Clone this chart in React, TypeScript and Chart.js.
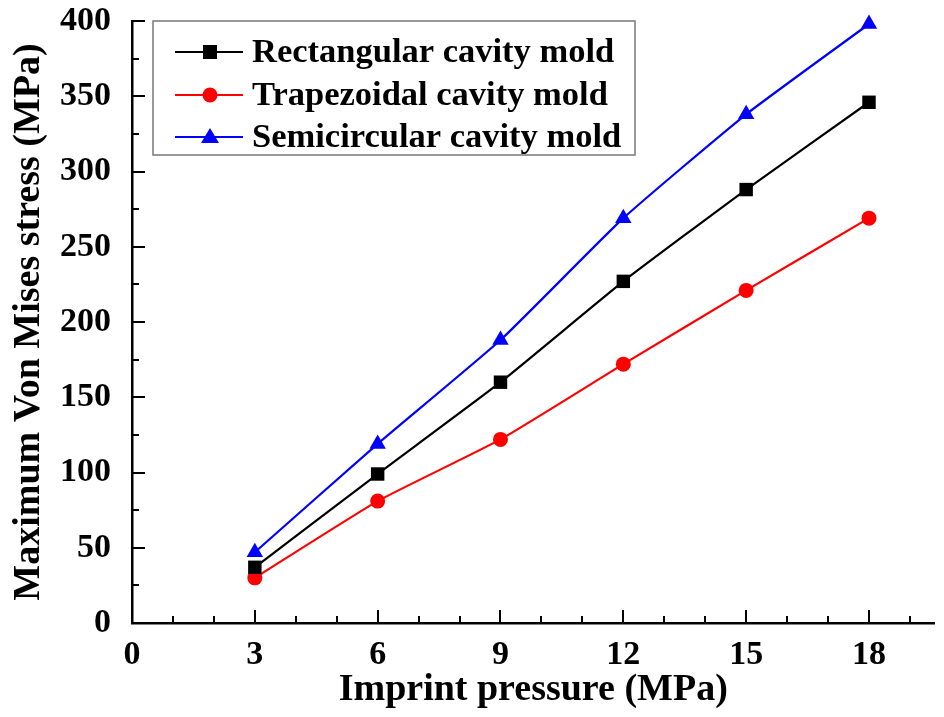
import React, { useEffect, useRef } from "react";
import { Chart, registerables } from "chart.js";

Chart.register(...registerables);

const pressures = [3, 6, 9, 12, 15, 18];
const rectangular = [37, 99, 160, 227, 288, 346];
const trapezoidal = [30, 81, 122, 172, 221, 269];
const semicircular = [47, 119, 188, 269, 338, 398];

const seriesNames = ["Rectangular cavity mold", "Trapezoidal cavity mold", "Semicircular cavity mold"];
const seriesColors = ["#000000", "#ff0000", "#0000ff"];
const seriesStyles = ["rect", "circle", "triangle"];
const seriesRadius = [9.5, 7.5, 9.5];

const FONT = "'Liberation Serif', 'Times New Roman', serif";

const tickPlugin = {
  id: "tickPlugin",
  afterDraw(chart: any) {
    const ctx = chart.ctx;
    const xs = chart.scales.x;
    const ys = chart.scales.y;
    const area = chart.chartArea;
    ctx.save();
    ctx.strokeStyle = "#000";
    ctx.lineWidth = 2;
    for (let v = 0; v <= xs.max; v += 1) {
      const px = Math.round(xs.getPixelForValue(v));
      const len = v % 3 === 0 ? 13 : 7;
      ctx.beginPath();
      ctx.moveTo(px, area.bottom);
      ctx.lineTo(px, area.bottom - len);
      ctx.stroke();
    }
    for (let v = 0; v <= ys.max; v += 25) {
      const py = Math.round(ys.getPixelForValue(v));
      const len = v % 50 === 0 ? 13 : 7;
      ctx.beginPath();
      ctx.moveTo(area.left, py);
      ctx.lineTo(area.left + len, py);
      ctx.stroke();
    }
    // legend
    const bx = 153, by = 21, bw = 482, bh = 134;
    ctx.fillStyle = "#fff";
    ctx.fillRect(bx, by, bw, bh);
    ctx.strokeStyle = "#777";
    ctx.lineWidth = 1.5;
    ctx.strokeRect(bx, by, bw, bh);
    const rows = [52, 95, 137];
    ctx.font = `bold 34.5px ${FONT}`;
    ctx.textBaseline = "middle";
    ctx.textAlign = "left";
    seriesNames.forEach((name, i) => {
      const y = rows[i];
      ctx.strokeStyle = seriesColors[i];
      ctx.lineWidth = 2;
      ctx.beginPath();
      ctx.moveTo(175, y);
      ctx.lineTo(243, y);
      ctx.stroke();
      ctx.fillStyle = seriesColors[i];
      const cx = 210;
      ctx.beginPath();
      if (seriesStyles[i] === "rect") {
        ctx.rect(cx - 7, y - 7, 14, 14);
      } else if (seriesStyles[i] === "circle") {
        ctx.arc(cx, y, 7.5, 0, Math.PI * 2);
      } else {
        ctx.moveTo(cx, y - 9);
        ctx.lineTo(cx + 9, y + 6);
        ctx.lineTo(cx - 9, y + 6);
        ctx.closePath();
      }
      ctx.fill();
      ctx.fillStyle = "#000";
      ctx.fillText(name, 252, y + 1);
    });
    ctx.restore();
  },
};

export default function App() {
  const ref = useRef<HTMLCanvasElement | null>(null);
  useEffect(() => {
    document.body.style.margin = "0";
    const data = [rectangular, trapezoidal, semicircular];
    const chart = new Chart(ref.current as HTMLCanvasElement, {
      type: "line",
      data: {
        datasets: data.map((vals, i) => ({
          label: seriesNames[i],
          data: pressures.map((p, j) => ({ x: p, y: vals[j] })),
          borderColor: seriesColors[i],
          backgroundColor: seriesColors[i],
          borderWidth: 2.2,
          pointStyle: seriesStyles[i] as any,
          pointRadius: seriesRadius[i],
          pointBorderWidth: 0,
          tension: 0.15,
          fill: false,
          clip: false,
        })),
      },
      options: {
        animation: false,
        responsive: false,
        maintainAspectRatio: false,
        layout: { padding: { top: 21, right: 0, left: 0, bottom: 0 } },
        plugins: { legend: { display: false }, tooltip: { enabled: false } },
        scales: {
          x: {
            type: "linear",
            min: 0,
            max: 19.6,
            afterBuildTicks: (s: any) => {
              s.ticks = [0, 3, 6, 9, 12, 15, 18].map((v) => ({ value: v }));
            },
            afterFit: (s: any) => {
              s.height = 94;
              s.paddingLeft = 0;
              s.paddingRight = 0;
            },
            grid: { display: false },
            border: { display: true, color: "#000", width: 2.5 },
            ticks: {
              color: "#000",
              padding: 4,
              font: { family: FONT, size: 34, weight: "bold" },
            },
            title: {
              display: true,
              text: "Imprint pressure (MPa)",
              color: "#000",
              padding: { top: 0, bottom: 4 },
              font: { family: FONT, size: 38, weight: "bold" },
            },
          },
          y: {
            type: "linear",
            min: 0,
            max: 400,
            afterBuildTicks: (s: any) => {
              s.ticks = [0, 50, 100, 150, 200, 250, 300, 350, 400].map((v) => ({ value: v }));
            },
            afterFit: (s: any) => {
              s.width = 132;
              s.paddingTop = 0;
              s.paddingBottom = 0;
            },
            grid: { display: false },
            border: { display: true, color: "#000", width: 2.5 },
            ticks: {
              color: "#000",
              padding: 13,
              font: { family: FONT, size: 34, weight: "bold" },
            },
            title: {
              display: true,
              text: "Maximum Von Mises stress (MPa)",
              color: "#000",
              padding: { top: 6, bottom: 0 },
              font: { family: FONT, size: 38, weight: "bold" },
            },
          },
        },
      },
      plugins: [tickPlugin],
    });
    return () => chart.destroy();
  }, []);
  return (
    <div style={{ position: "fixed", left: 0, top: 0, width: 944, height: 717, background: "#fff" }}>
      <canvas ref={ref} width={944} height={717} style={{ width: 944, height: 717 }} />
    </div>
  );
}
